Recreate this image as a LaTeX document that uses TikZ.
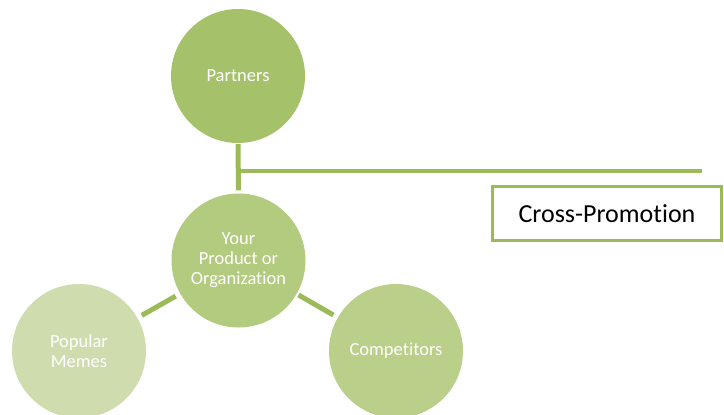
\documentclass[tikz,border=0pt]{standalone}
\usepackage{fontspec}
\setmainfont{Carlito}[Ligatures={NoCommon}]
\usetikzlibrary{positioning}
\definecolor{partgreen}{RGB}{165, 194, 106}
\definecolor{hubgreen}{RGB}{179, 203, 127}
\definecolor{compgreen}{RGB}{186, 208, 138}
\definecolor{memegreen}{RGB}{207, 221, 174}
\definecolor{linegreen}{RGB}{155, 187, 89}

\begin{document}
\begin{tikzpicture}[x=1pt, y=-1pt,
  bubble/.style={circle, minimum size=134pt, inner sep=0pt, text=white,
    align=center, font=\fontsize{18.5}{20}\selectfont},
  link/.style={draw=linegreen, line width=5pt, shorten <=5pt, shorten >=5pt},
  tagbox/.style={draw=linegreen, line width=3pt, fill=white, minimum width=229pt,
    minimum height=54pt, inner sep=0pt, font=\fontsize{26}{30}\selectfont}]
  \useasboundingbox (0,0) rectangle (724,415);

  % circles
  \node[bubble, fill=partgreen] (partners) at (238,76) {Partners};
  \node[bubble, fill=hubgreen] (hub) at (238.5,260.5) {Your\\Product or\\Organization};
  \node[bubble, fill=compgreen] (competitors) at (396,351) {Competitors};
  \node[bubble, fill=memegreen] (memes) at (79,351) {Popular\\Memes};

  % links
  \draw[link, shorten <=1pt, shorten >=3pt] (partners) -- (hub);
  \draw[link, shorten <=2pt] (hub) -- (competitors);
  \draw[link] (hub) -- (memes);

  % callout
  \coordinate (branch) at (238,171);
  \coordinate (branchend) at (702,171);
  \draw[draw=linegreen, line width=4pt] (branch) -- (branchend);
  \node[tagbox] (promo) at (607,213.5) {Cross-Promotion};
\end{tikzpicture}
\end{document}
